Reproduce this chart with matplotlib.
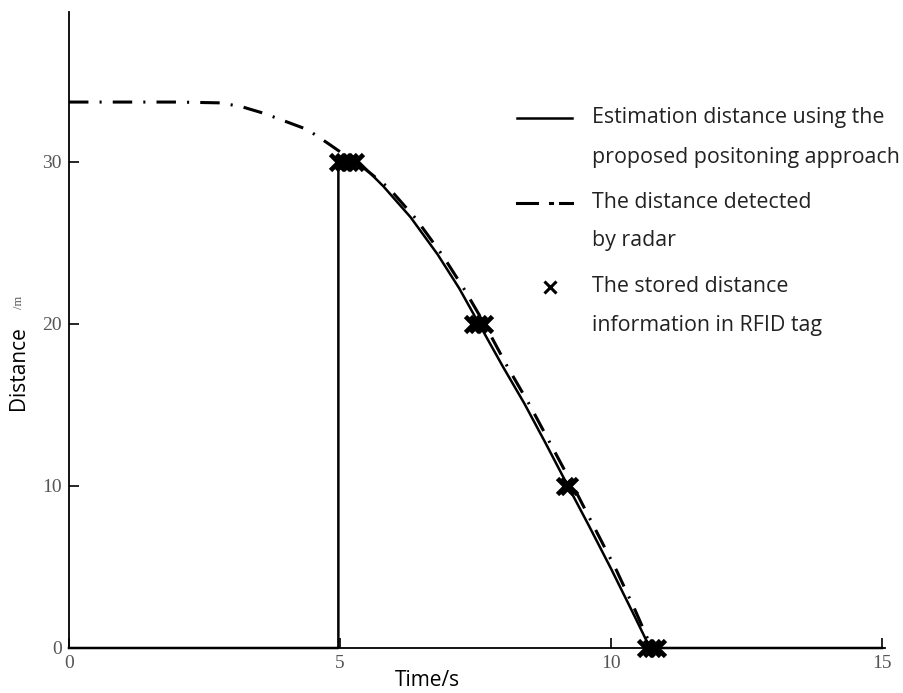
import matplotlib
matplotlib.use("Agg")
import matplotlib.pyplot as plt
from matplotlib.lines import Line2D

plt.rcParams['lines.scale_dashes'] = False

# ---- data ----
est_t = [0, 4.97, 4.97, 5.35, 5.8, 6.3, 6.8, 7.2, 7.55, 8.0, 8.4, 8.8, 9.19, 9.6, 10.0, 10.4, 10.72, 15]
est_d = [0, 0, 30, 30.0, 28.5, 26.6, 24.3, 22.2, 20.1, 17.4, 15.1, 12.6, 10.1, 7.5, 4.9, 2.2, 0, 0]

radar_t = [0, 1, 2, 2.8, 3.2, 3.6, 4.0, 4.4, 4.8, 5.1, 5.45, 5.9, 6.4, 6.9, 7.3, 7.65, 8.1, 8.5, 8.9, 9.3, 9.7, 10.1, 10.45, 10.75]
radar_d = [33.7, 33.7, 33.7, 33.65, 33.4, 33.0, 32.5, 32.0, 31.1, 30.4, 29.6, 28.4, 26.5, 24.2, 22.1, 20.1, 17.3, 15.0, 12.5, 10.0, 7.4, 4.8, 2.3, 0]

tag_t = [4.97, 5.07, 5.17, 5.27, 7.45, 7.55, 7.65, 9.15, 9.22, 10.65, 10.75, 10.85]
tag_d = [30, 30, 30, 30, 20, 20, 20, 10, 10, 0, 0, 0]

x_ticks = [0, 5, 10, 15]
y_ticks = [0, 10, 20, 30]

labels = [
    ["Estimation distance using the", "proposed positoning approach"],
    ["The distance detected", "by radar"],
    ["The stored distance", "information in RFID tag"],
]

W, H = 904, 693
fig = plt.figure(figsize=(W / 100, H / 100), dpi=100)
ax_l, ax_r, ax_b, ax_t = 69, 882, 648, 12
ax = fig.add_axes([ax_l / W, 1 - ax_b / H, (ax_r - ax_l) / W, (ax_b - ax_t) / H])
ymax = (ax_b - ax_t) / 16.2
ax.set_xlim(0, 15)
ax.set_ylim(0, ymax)

radar_style = dict(color='black', lw=2.2, linestyle=(0, (14, 8, 1.5, 8)))
est_style = dict(color='black', lw=1.8)
tag_style = dict(color='black', linestyle='none', marker='x', markersize=12, mew=3.4)

ax.plot(radar_t, radar_d, **radar_style)
ax.plot(est_t, est_d, **est_style, clip_on=False)
ax.plot(tag_t, tag_d, **tag_style, clip_on=False)

for s in ['top', 'right']:
    ax.spines[s].set_visible(False)
for s in ['left', 'bottom']:
    ax.spines[s].set_linewidth(1.3)
ax.spines['bottom'].set_bounds(0, 15.05)

ax.set_xticks(x_ticks)
ax.set_yticks(y_ticks)
ax.tick_params(direction='in', length=7, width=1.2, colors='black',
               labelcolor='#555555', labelsize=14, pad=5)
for lab in ax.get_xticklabels() + ax.get_yticklabels():
    lab.set_fontfamily('Liberation Serif')

ax.set_xlabel("Time/s", fontsize=15, fontfamily='Open Sans', va='center')
ax.xaxis.set_label_coords((427 - ax_l) / (ax_r - ax_l), (ax_b - 681) / (ax_b - ax_t))
ax.set_ylabel("Distance", fontsize=15, fontfamily='Open Sans', va='center')
ax.yaxis.set_label_coords((19 - ax_l) / (ax_r - ax_l), (ax_b - 368) / (ax_b - ax_t))
fig.text(19 / W, 1 - 302 / H, "/m", rotation=90, ha='center', va='center',
         fontsize=9, fontfamily='Liberation Serif', color='#555555')

# ---- legend (manual, no frame) ----
def fx(px):
    return px / W

def fy(py):
    return 1 - py / H

fig.add_artist(Line2D([fx(517), fx(572)], [fy(118), fy(118)], transform=fig.transFigure, **est_style))
fig.add_artist(Line2D([fx(517), fx(537)], [fy(203), fy(203)], transform=fig.transFigure, color='black', lw=2.2))
fig.add_artist(Line2D([fx(550), fx(552)], [fy(203), fy(203)], transform=fig.transFigure, color='black', lw=2.2))
fig.add_artist(Line2D([fx(560), fx(572)], [fy(203), fy(203)], transform=fig.transFigure, color='black', lw=2.2))
fig.add_artist(Line2D([fx(550)], [fy(287)], transform=fig.transFigure, color='black',
                      linestyle='none', marker='x', markersize=8, mew=2.2))

rows = [(118, 157), (202, 241), (287, 326)]
for (y1, y2), lines in zip(rows, labels):
    fig.text(fx(592), fy(y1), lines[0], fontsize=15.4, fontfamily='Open Sans', va='center', ha='left', color='#222222')
    fig.text(fx(592), fy(y2), lines[1], fontsize=15.4, fontfamily='Open Sans', va='center', ha='left', color='#222222')

fig.savefig("out.png", dpi=100)
